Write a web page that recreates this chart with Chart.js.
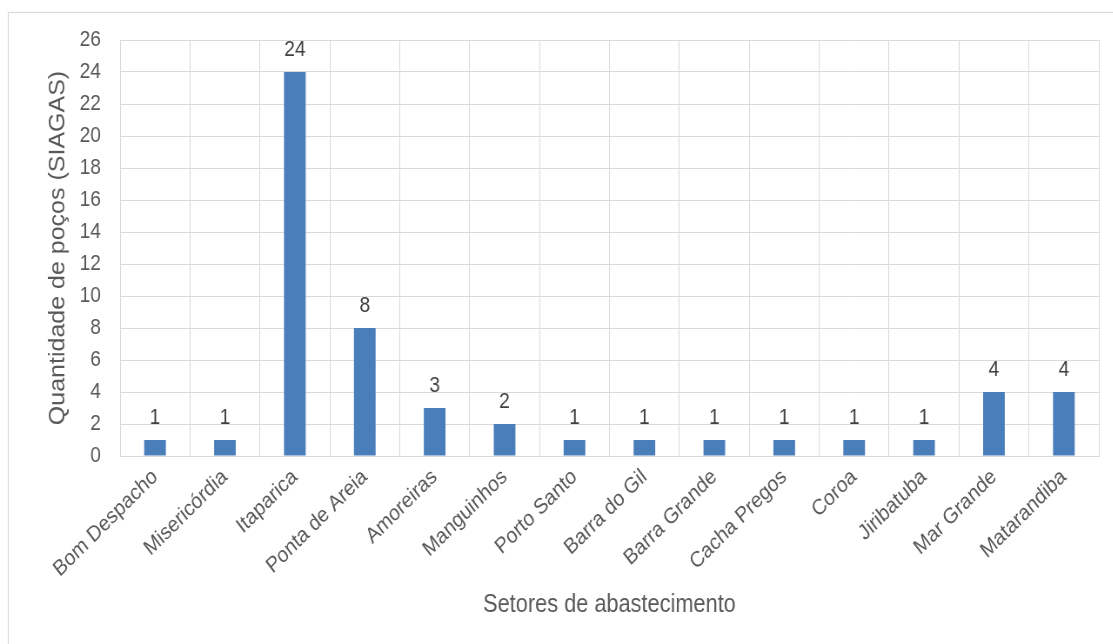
<!DOCTYPE html>
<html>
<head>
<meta charset="utf-8">
<script src="https://cdn.jsdelivr.net/npm/chart.js@4.4.0/dist/chart.umd.min.js"></script>
<style>
	html, body { margin: 0; padding: 0; background: #fff; overflow: hidden; }
	/* chart is laid out wide and squeezed horizontally so the lettering comes out narrow */
	#wrap { position: relative; width: 1279px; height: 644px; transform: scaleX(0.87); transform-origin: 0 0; }
</style>
</head>
<body>
<div id="wrap"><canvas id="wells-chart"></canvas></div>
<script>
const sectors = ['Bom Despacho', 'Misericórdia', 'Itaparica', 'Ponta de Areia', 'Amoreiras', 'Manguinhos',
	'Porto Santo', 'Barra do Gil', 'Barra Grande', 'Cacha Pregos', 'Coroa', 'Jiribatuba', 'Mar Grande', 'Matarandiba'];
const wellCounts = [1, 1, 24, 8, 3, 2, 1, 1, 1, 1, 1, 1, 4, 4];
const yTicks = [0, 2, 4, 6, 8, 10, 12, 14, 16, 18, 20, 22, 24, 26];

const FONT = '"Liberation Sans", Arial, sans-serif';
const TEXT = '#595959';
const GRID = '#d9d9d9';

// outer frame around the whole chart
const frame = {
	id: 'frame',
	beforeDraw(chart) {
		const ctx = chart.ctx;
		ctx.save();
		ctx.strokeStyle = '#d9d9d9';
		ctx.lineWidth = 1.2;
		ctx.strokeRect(9.5, 12.5, 1300, 650);
		ctx.restore();
	}
};

// value printed above each bar
const barValues = {
	id: 'barValues',
	afterDatasetsDraw(chart) {
		const ctx = chart.ctx;
		const meta = chart.getDatasetMeta(0);
		ctx.save();
		ctx.font = '22px ' + FONT;
		ctx.fillStyle = '#404040';
		ctx.textAlign = 'center';
		ctx.textBaseline = 'alphabetic';
		meta.data.forEach((bar, i) => {
			ctx.fillText(String(wellCounts[i]), bar.x, bar.y - 16);
		});
		ctx.restore();
	}
};

new Chart(document.getElementById('wells-chart'), {
	type: 'bar',
	data: {
		labels: sectors,
		datasets: [{
			data: wellCounts,
			backgroundColor: '#4a7ebb',
			categoryPercentage: 1,
			barPercentage: 0.31
		}]
	},
	options: {
		responsive: true,
		maintainAspectRatio: false,
		animation: false,
		layout: { padding: { top: 40, right: 16, left: 0, bottom: 0 } },
		plugins: {
			legend: { display: false },
			tooltip: { enabled: false }
		},
		scales: {
			x: {
				grid: { color: GRID, drawTicks: false, offset: true },
				border: { color: GRID },
				ticks: {
					color: TEXT,
					font: { family: FONT, size: 22 },
					maxRotation: 41,
					minRotation: 41,
					padding: 8,
					autoSkip: false
				},
				title: {
					display: true,
					text: 'Setores de abastecimento',
					color: TEXT,
					font: { family: FONT, size: 25 },
					padding: { top: 0, bottom: 24 }
				},
				afterFit(scale) { scale.height = 188; }
			},
			y: {
				min: 0,
				max: 26,
				afterBuildTicks(scale) { scale.ticks = yTicks.map(v => ({ value: v })); },
				grid: { color: GRID, drawTicks: false },
				border: { display: false },
				ticks: {
					color: TEXT,
					font: { family: FONT, size: 22 },
					padding: 22
				},
				title: {
					display: true,
					text: 'Quantidade de poços (SIAGAS)',
					color: TEXT,
					font: { family: FONT, size: 25 },
					padding: { top: 52, bottom: 0 }
				},
				afterFit(scale) { scale.width = 138; }
			}
		}
	},
	plugins: [frame, barValues]
});
</script>
</body>
</html>
